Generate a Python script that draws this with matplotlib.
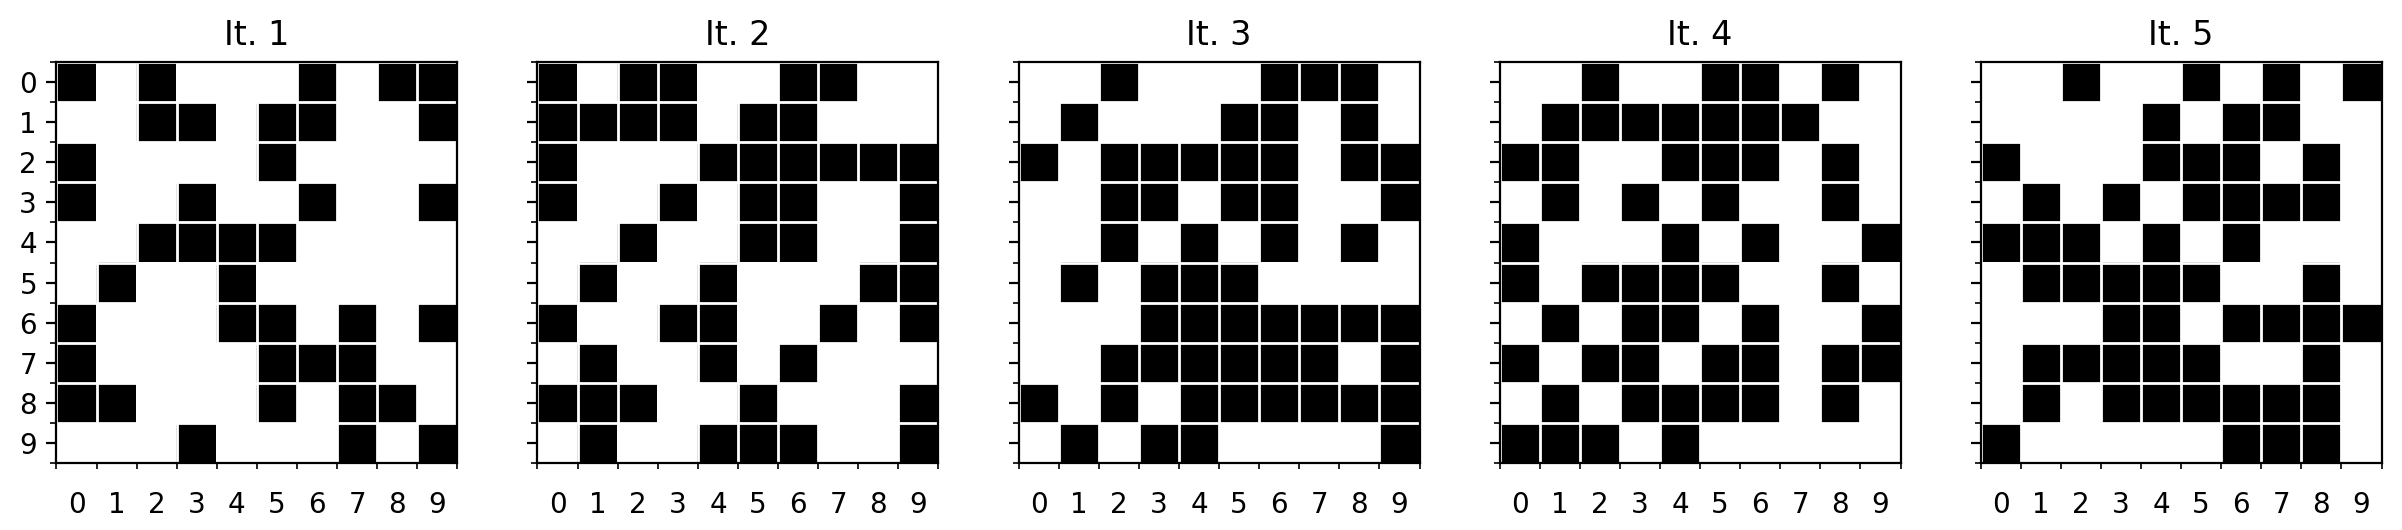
import numpy as np
import matplotlib
matplotlib.use('Agg')
import matplotlib.pyplot as plt

# cell states per iteration (1 = black)
it1 = [[1,0,1,0,0,0,1,0,1,1],
       [0,0,1,1,0,1,1,0,0,1],
       [1,0,0,0,0,1,0,0,0,0],
       [1,0,0,1,0,0,1,0,0,1],
       [0,0,1,1,1,1,0,0,0,0],
       [0,1,0,0,1,0,0,0,0,0],
       [1,0,0,0,1,1,0,1,0,1],
       [1,0,0,0,0,1,1,1,0,0],
       [1,1,0,0,0,1,0,1,1,0],
       [0,0,0,1,0,0,0,1,0,1]]

it2 = [[1,0,1,1,0,0,1,1,0,0],
       [1,1,1,1,0,1,1,0,0,0],
       [1,0,0,0,1,1,1,1,1,1],
       [1,0,0,1,0,1,1,0,0,1],
       [0,0,1,0,0,1,1,0,0,1],
       [0,1,0,0,1,0,0,0,1,1],
       [1,0,0,1,1,0,0,1,0,1],
       [0,1,0,0,1,0,1,0,0,0],
       [1,1,1,0,0,1,0,0,0,1],
       [0,1,0,0,1,1,1,0,0,1]]

it3 = [[0,0,1,0,0,0,1,1,1,0],
       [0,1,0,0,0,1,1,0,1,0],
       [1,0,1,1,1,1,1,0,1,1],
       [0,0,1,1,0,1,1,0,0,1],
       [0,0,1,0,1,0,1,0,1,0],
       [0,1,0,1,1,1,0,0,0,0],
       [0,0,0,1,1,1,1,1,1,1],
       [0,0,1,1,1,1,1,1,0,1],
       [1,0,1,0,1,1,1,1,1,1],
       [0,1,0,1,1,0,0,0,0,1]]

it4 = [[0,0,1,0,0,1,1,0,1,0],
       [0,1,1,1,1,1,1,1,0,0],
       [1,1,0,0,1,1,1,0,1,0],
       [0,1,0,1,0,1,0,0,1,0],
       [1,0,0,0,1,0,1,0,0,1],
       [1,0,1,1,1,1,0,0,1,0],
       [0,1,0,1,1,0,1,0,0,1],
       [1,0,1,1,0,1,1,0,1,1],
       [0,1,0,1,1,1,1,0,1,0],
       [1,1,1,0,1,0,0,0,0,0]]

it5 = [[0,0,1,0,0,1,0,1,0,1],
       [0,0,0,0,1,0,1,1,0,0],
       [1,0,0,0,1,1,1,0,1,0],
       [0,1,0,1,0,1,1,1,1,0],
       [1,1,1,0,1,0,1,0,0,0],
       [0,1,1,1,1,1,0,0,1,0],
       [0,0,0,1,1,0,1,1,1,1],
       [0,1,1,1,1,1,0,0,1,0],
       [0,1,0,1,1,1,1,1,1,0],
       [1,0,0,0,0,0,1,1,1,0]]

grids = [it1, it2, it3, it4, it5]
titles = ['It. 1', 'It. 2', 'It. 3', 'It. 4', 'It. 5']

fig, axes = plt.subplots(1, 5, figsize=(12.01, 2.65), dpi=200, sharey=True)
fig.subplots_adjust(left=0.0233, right=0.9917, bottom=0.1264, top=0.883, wspace=0.1965)

for ax, g, t in zip(axes, grids, titles):
    g = np.array(g)
    ax.imshow(g, cmap='binary', vmin=0, vmax=1, interpolation='nearest')
    ax.set_title(t, fontsize=12)
    ax.set_xticks(np.arange(10))
    ax.set_yticks(np.arange(10))
    ax.set_xticks(np.arange(-.5, 10, 1), minor=True)
    ax.set_yticks(np.arange(-.5, 10, 1), minor=True)
    ax.grid(which='minor', color='w', linewidth=1)
    ax.tick_params(axis='x', which='major', length=0, pad=10)
    ax.tick_params(labelsize=10)

plt.savefig('out.png', dpi=200)
